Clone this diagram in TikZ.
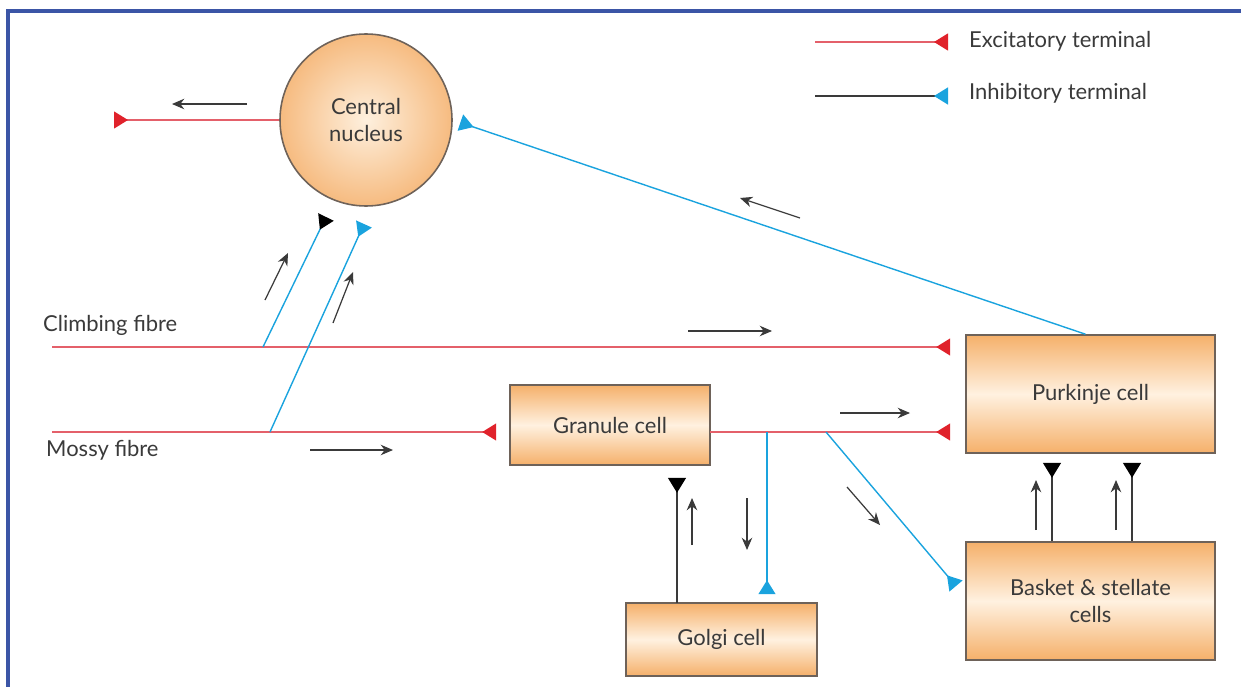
\documentclass[tikz,border=0pt]{standalone}
\usepackage{fontspec}
\setmainfont{Lato}
\usepackage{xcolor}
\usepackage{tikz}
\usetikzlibrary{positioning, arrows.meta}

\definecolor{cellorange}{HTML}{F5B06A}
\definecolor{celllight}{HTML}{FFF1E0}
\definecolor{nucouter}{HTML}{F6BB80}
\definecolor{nucinner}{HTML}{FEF0DE}
\definecolor{celledge}{HTML}{6E6259}
\definecolor{exred}{HTML}{E0222B}
\definecolor{exline}{HTML}{E4606A}
\definecolor{inblue}{HTML}{1AA3DE}
\definecolor{framblue}{HTML}{3B55A6}
\definecolor{txtgray}{HTML}{3A3A3A}

\begin{document}
\begin{tikzpicture}[
    cellbox/.style={draw=celledge, line width=0.9pt, top color=cellorange, bottom color=cellorange, middle color=celllight, align=center, font=\fontsize{12.5}{15}\selectfont, text=txtgray},
    excit/.style={exline, line width=0.7pt, -{Triangle[reversed, length=0.28cm, width=0.34cm, fill=exred, color=exred]}},
    inhib/.style={inblue, line width=0.8pt, -{Triangle[reversed, length=0.28cm, width=0.34cm]}},
    inhibk/.style={inblue, line width=0.8pt, -{Triangle[reversed, length=0.28cm, width=0.34cm, color=black]}},
    golgiline/.style={txtgray, line width=0.8pt, -{Triangle[reversed, length=0.3cm, width=0.36cm, color=black]}},
    flow/.style={txtgray, line width=0.7pt, -{Stealth[length=7pt, width=6pt]}},
    lbl/.style={font=\fontsize{12.5}{15}\selectfont, text=txtgray}
]
\useasboundingbox (0,0) rectangle (24.82,-13.74);
\draw[framblue, line width=1.8pt] (0.16,-13.74) -- (0.16,-0.22) -- (24.82,-0.22);

% cells
\node[circle, draw=celledge, line width=0.9pt, minimum size=3.44cm, inner color=nucinner, outer color=nucouter, align=center, font=\fontsize{12.5}{15}\selectfont, text=txtgray] (nucleus) at (7.32,-2.4) {Central\\nucleus};
\node[cellbox, minimum width=4.0cm, minimum height=1.6cm] (granule) at (12.2,-8.5) {Granule cell};
\node[cellbox, minimum width=4.98cm, minimum height=2.36cm] (purkinje) at (21.81,-7.88) {Purkinje cell};
\node[cellbox, minimum width=4.98cm, minimum height=2.36cm] (basket) at (21.81,-12.02) {Basket \& stellate\\cells};
\node[cellbox, minimum width=3.82cm, minimum height=1.46cm] (golgi) at (14.43,-12.79) {Golgi cell};

% fibres
\node[lbl, anchor=west] (cflabel) at (0.74,-6.5) {Climbing fibre};
\node[lbl, anchor=west] (mflabel) at (0.8,-9.0) {Mossy fibre};
\coordinate (cfstart) at (1.04,-6.94);
\coordinate (mfstart) at (1.04,-8.64);
\coordinate (cfbranch) at (5.26,-6.94);
\coordinate (mfbranch) at (5.4,-8.64);
\coordinate (cftip) at (6.52,-4.34);
\coordinate (mftip) at (7.28,-4.48);
\coordinate (grout) at (14.2,-8.64);
\coordinate (gobranch) at (15.34,-8.64);
\coordinate (bkbranch) at (16.52,-8.64);
\coordinate (bktip) at (19.12,-11.72);
\coordinate (gotop) at (13.54,-12.06);
\coordinate (nuout) at (2.28,-2.4);

\draw[excit, shorten >=3mm] (cfstart) -- (cfstart -| purkinje.west);
\draw[excit, shorten >=2.6mm] (mfstart) -- (mfstart -| granule.west);
\draw[excit, shorten >=3mm] (grout) -- (grout -| purkinje.west);
\draw[excit] (nucleus.west) -- (nuout);
\draw[inhibk] (cfbranch) -- (cftip);
\draw[inhib] (mfbranch) -- (mftip);
\draw[inhib, shorten >=1.6mm] (gobranch) -- (gobranch |- golgi.north);
\draw[inhib] (bkbranch) -- (bktip);
\draw[inhib, shorten >=1.6mm] ([xshift=-1mm]purkinje.north) -- (nucleus.east);
\draw[golgiline, shorten >=2.4mm] (gotop) -- (gotop |- granule.south);
\draw[golgiline, shorten >=1.8mm] ([xshift=-0.77cm]basket.north) -- ([xshift=-0.77cm]purkinje.south);
\draw[golgiline, shorten >=1.8mm] ([xshift=0.83cm]basket.north) -- ([xshift=0.83cm]purkinje.south);

% direction of flow
\foreach \xa/\ya/\xb/\yb in {4.94/-2.08/3.44/-2.08, 5.3/-6.0/5.76/-5.06, 6.66/-6.46/7.06/-5.44,
    16.0/-4.36/14.8/-3.96, 13.76/-6.62/15.44/-6.62, 6.2/-9.0/7.86/-9.0,
    16.8/-8.26/18.2/-8.26, 13.84/-10.9/13.84/-9.96, 14.94/-9.96/14.94/-11.0,
    16.94/-9.74/17.6/-10.5, 20.72/-10.6/20.72/-9.6, 22.32/-10.6/22.32/-9.6}
    \draw[flow] (\xa,\ya) -- (\xb,\yb);

% legend
\coordinate (legexa) at (16.3,-0.84);
\coordinate (legexb) at (18.96,-0.84);
\coordinate (legina) at (16.3,-1.92);
\coordinate (leginb) at (18.96,-1.92);
\draw[excit] (legexa) -- (legexb);
\draw[txtgray, line width=0.8pt, -{Triangle[reversed, length=0.28cm, width=0.34cm, color=inblue]}] (legina) -- (leginb);
\node[lbl, anchor=west] (legex) at (19.26,-0.82) {Excitatory terminal};
\node[lbl, anchor=west] (legin) at (19.26,-1.86) {Inhibitory terminal};
\end{tikzpicture}
\end{document}
